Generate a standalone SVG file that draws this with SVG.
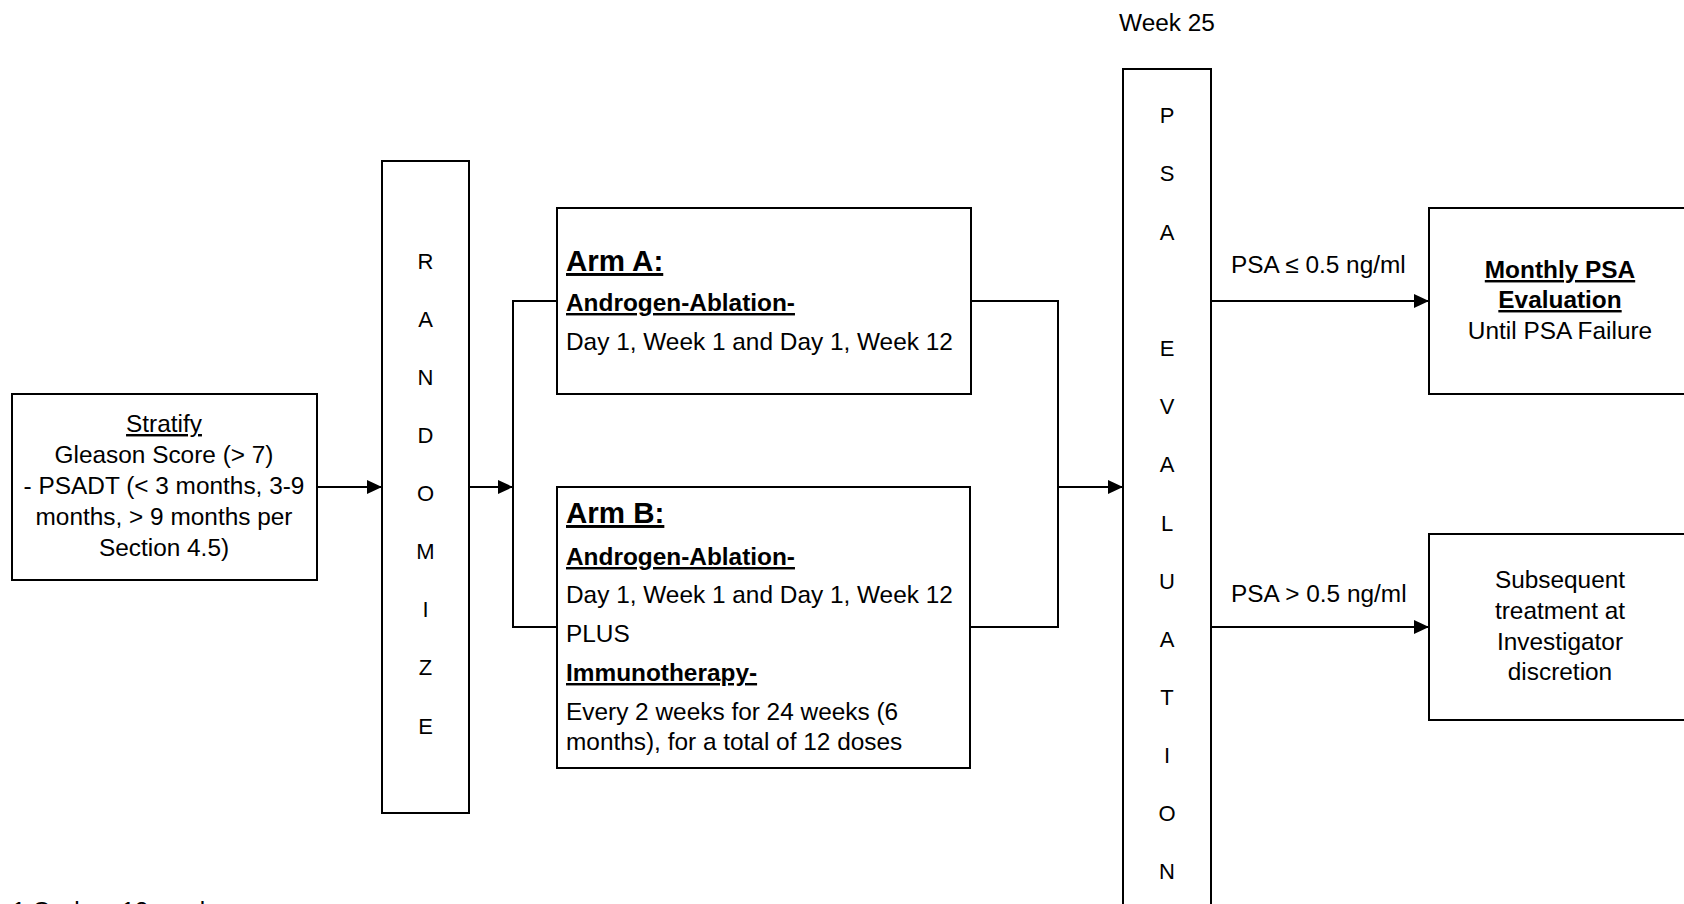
<svg xmlns="http://www.w3.org/2000/svg" width="1684" height="904" viewBox="0 0 1684 904">
<defs>
<style>
text{font-family:"Liberation Sans",Arial,sans-serif;fill:#000}
.box{fill:#fff;stroke:#000;stroke-width:2}
.t{font-size:24.4px}
.c{text-anchor:middle}
.b{font-weight:bold}
.u{text-decoration:underline}
.h{font-size:29.5px;font-weight:bold;text-decoration:underline}
.lt{font-size:22px;text-anchor:middle}
.w{stroke:#000;stroke-width:2;fill:none}
</style>
<marker id="ah" markerWidth="15" markerHeight="14" refX="15" refY="7" orient="auto" markerUnits="userSpaceOnUse">
<path d="M0,0 L15,7 L0,14 Z" fill="#000"/>
</marker>
</defs>
<rect width="1684" height="904" fill="#fff"/>

<g id="connectors">
<path class="w" d="M317,487 H382" marker-end="url(#ah)"/>
<path class="w" d="M469,487 H513" marker-end="url(#ah)"/>
<path class="w" d="M557,301 H513 V627 H557"/>
<path class="w" d="M971,301 H1058 V627 H970"/>
<path class="w" d="M1058,487 H1123" marker-end="url(#ah)"/>
<path class="w" d="M1211,301 H1429" marker-end="url(#ah)"/>
<path class="w" d="M1211,627 H1429" marker-end="url(#ah)"/>
<text class="t" x="1231" y="273">PSA ≤ 0.5 ng/ml</text>
<text class="t" x="1231" y="602">PSA &gt; 0.5 ng/ml</text>
</g>

<g id="stratify">
<rect class="box" x="12" y="394" width="305" height="186"/>
<text class="t c u" x="164" y="432">Stratify</text>
<text class="t c" x="164" y="463">Gleason Score (&gt; 7)</text>
<text class="t c" x="164" y="494">- PSADT (&lt; 3 months, 3-9</text>
<text class="t c" x="164" y="525">months, &gt; 9 months per</text>
<text class="t c" x="164" y="556">Section 4.5)</text>
</g>

<g id="randomize">
<rect class="box" x="382" y="161" width="87" height="652"/>
<text class="lt" x="425.5" y="269">R</text>
<text class="lt" x="425.5" y="327">A</text>
<text class="lt" x="425.5" y="385">N</text>
<text class="lt" x="425.5" y="443">D</text>
<text class="lt" x="425.5" y="501">O</text>
<text class="lt" x="425.5" y="559">M</text>
<text class="lt" x="425.5" y="617">I</text>
<text class="lt" x="425.5" y="675">Z</text>
<text class="lt" x="425.5" y="734">E</text>
</g>

<g id="armA">
<rect class="box" x="557" y="208" width="414" height="186"/>
<text class="h" x="566" y="271">Arm A:</text>
<text class="t b u" x="566" y="311">Androgen-Ablation-</text>
<text class="t" x="566" y="350">Day 1, Week 1 and Day 1, Week 12</text>
</g>

<g id="armB">
<rect class="box" x="557" y="487" width="413" height="281"/>
<text class="h" x="566" y="523">Arm B:</text>
<text class="t b u" x="566" y="565">Androgen-Ablation-</text>
<text class="t" x="566" y="603">Day 1, Week 1 and Day 1, Week 12</text>
<text class="t" x="566" y="642">PLUS</text>
<text class="t b u" x="566" y="681">Immunotherapy-</text>
<text class="t" x="566" y="720">Every 2 weeks for 24 weeks (6</text>
<text class="t" x="566" y="750">months), for a total of 12 doses</text>
</g>

<g id="psaEvaluation">
<text class="t c" x="1167" y="31">Week 25</text>
<rect class="box" x="1123" y="69" width="88" height="850"/>
<text class="lt" x="1167" y="123">P</text>
<text class="lt" x="1167" y="181">S</text>
<text class="lt" x="1167" y="240">A</text>
<text class="lt" x="1167" y="356">E</text>
<text class="lt" x="1167" y="414">V</text>
<text class="lt" x="1167" y="472">A</text>
<text class="lt" x="1167" y="531">L</text>
<text class="lt" x="1167" y="589">U</text>
<text class="lt" x="1167" y="647">A</text>
<text class="lt" x="1167" y="705">T</text>
<text class="lt" x="1167" y="763">I</text>
<text class="lt" x="1167" y="821">O</text>
<text class="lt" x="1167" y="879">N</text>
</g>

<g id="monthly">
<rect class="box" x="1429" y="208" width="270" height="186"/>
<text class="t c b u" x="1560" y="278">Monthly PSA</text>
<text class="t c b u" x="1560" y="308">Evaluation</text>
<text class="t c" x="1560" y="339">Until PSA Failure</text>
</g>

<g id="subsequent">
<rect class="box" x="1429" y="534" width="270" height="186"/>
<text class="t c" x="1560" y="588">Subsequent</text>
<text class="t c" x="1560" y="619">treatment at</text>
<text class="t c" x="1560" y="650">Investigator</text>
<text class="t c" x="1560" y="680">discretion</text>
</g>

<g id="footnote">
<text class="t" x="12" y="919">1 Cycle = 12 weeks</text>
</g>
</svg>
